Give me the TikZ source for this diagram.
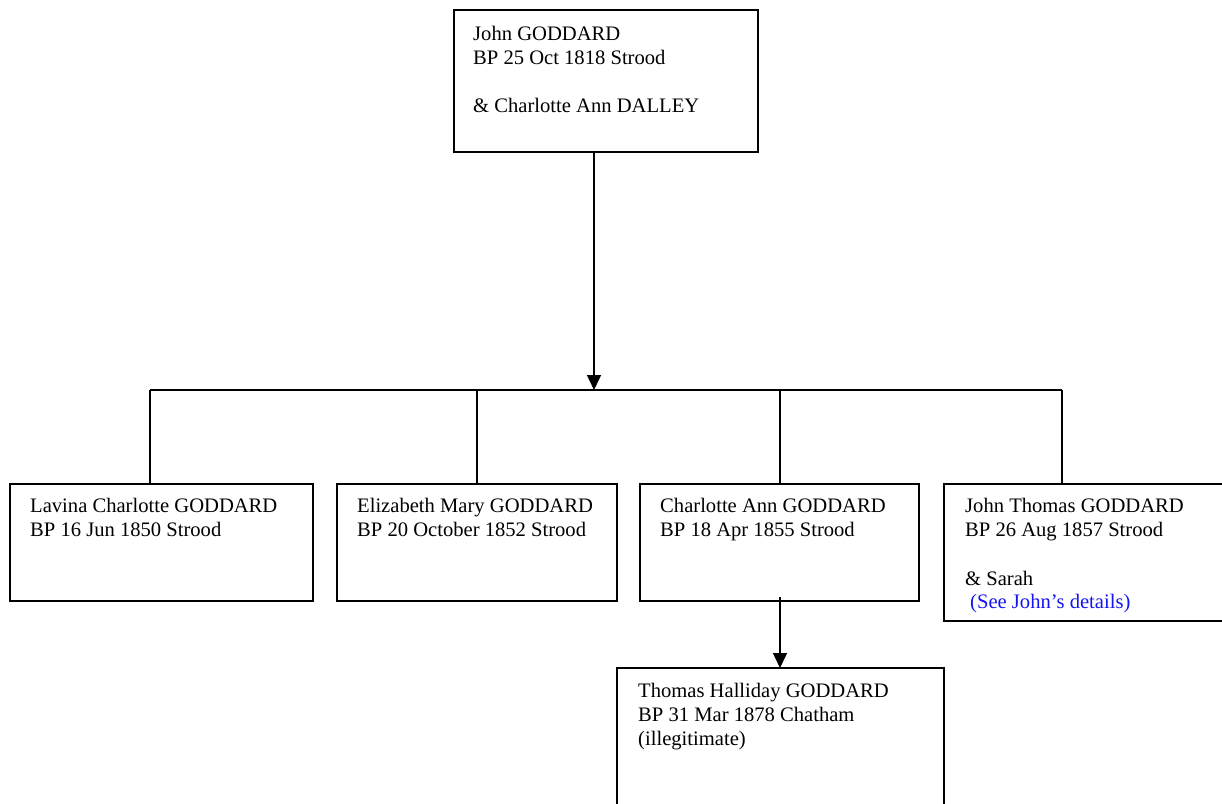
\documentclass[tikz,border=0pt]{standalone}
\usepackage{fontspec}
\setmainfont{Liberation Serif}
\usetikzlibrary{arrows.meta}
\definecolor{linkblue}{RGB}{20,20,240}
\begin{document}
\begin{tikzpicture}[x=1pt,y=-1pt,
  box/.style={draw, line width=1.5pt, outer sep=0pt, inner sep=0pt, anchor=north west, rectangle},
  txt/.style={anchor=base west, inner sep=0pt, font=\fontsize{20.6}{24}\selectfont},
  link/.style={txt, text=linkblue},
  conn/.style={line width=1.5pt},
  arr/.style={line width=1.5pt, -{Triangle[width=14pt,length=15pt]}}]
\useasboundingbox (0,0) rectangle (1222,803);
% boxes
\node[box, minimum width=304pt, minimum height=142pt] (top) at (454,10) {};
\node[box, minimum width=303pt, minimum height=117pt] (b1) at (10,484) {};
\node[box, minimum width=280pt, minimum height=117pt] (b2) at (337,484) {};
\node[box, minimum width=279pt, minimum height=117pt] (b3) at (640,484) {};
\node[box, minimum width=300pt, minimum height=137pt] (b4) at (944,484) {};
\node[box, minimum width=327pt, minimum height=170pt] (b5) at (617,668) {};
% texts
\node[txt] (t0a) at (473,40) {John GODDARD};
\node[txt] (t0b) at (473,64) {BP 25 Oct 1818 Strood};
\node[txt] (t0c) at (473,112) {\& Charlotte Ann DALLEY};
\node[txt] (t1a) at (30,512) {Lavina Charlotte GODDARD};
\node[txt] (t1b) at (30,536) {BP 16 Jun 1850 Strood};
\node[txt] (t2a) at (357,512) {Elizabeth Mary GODDARD};
\node[txt] (t2b) at (357,536) {BP 20 October 1852 Strood};
\node[txt] (t3a) at (660,512) {Charlotte Ann GODDARD};
\node[txt] (t3b) at (660,536) {BP 18 Apr 1855 Strood};
\node[txt] (t4a) at (965,512) {John Thomas GODDARD};
\node[txt] (t4b) at (965,536) {BP 26 Aug 1857 Strood};
\node[txt] (t4c) at (965,585) {\& Sarah};
\node[link] (t4d) at (970,608) {(See John’s details)};
\node[txt] (t5a) at (638,697) {Thomas Halliday GODDARD};
\node[txt] (t5b) at (638,721) {BP 31 Mar 1878 Chatham};
\node[txt] (t5c) at (638,745) {(illegitimate)};
% connectors
\coordinate (jn) at (594,390);
\coordinate (h1) at (150,390);
\coordinate (h2) at (477,390);
\coordinate (h3) at (780,390);
\coordinate (h4) at (1062,390);
\draw[arr] (jn |- top.south) -- (jn);
\draw[conn] (h1) -- (h4);
\draw[conn] (h1) -- (h1 |- b1.north);
\draw[conn] (h2) -- (h2 |- b2.north);
\draw[conn] (h3) -- (h3 |- b3.north);
\draw[conn] (h4) -- (h4 |- b4.north);
\draw[arr] ([yshift=4pt]b3.south -| h3) -- (h3 |- b5.north);
\end{tikzpicture}
\end{document}
